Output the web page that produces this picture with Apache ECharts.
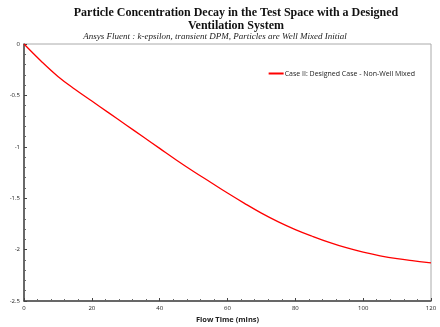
<!DOCTYPE html>
<html><head><meta charset="utf-8">
<script src="https://cdn.jsdelivr.net/npm/echarts@6/dist/echarts.min.js"></script>
<style>html,body{margin:0;padding:0;background:#fff}#c{width:440px;height:327px}</style>
</head><body><div id="c"></div>
<script>
const flowTime = [0, 5, 10, 15, 20, 25, 30, 35, 40, 45, 50, 55, 60, 65, 70, 75, 80, 85, 90, 95, 100, 105, 110, 115, 120];
const logReduction = [0, -0.165, -0.315, -0.44, -0.555, -0.67, -0.785, -0.9, -1.015, -1.13, -1.24, -1.345, -1.45, -1.55, -1.645, -1.73, -1.805, -1.87, -1.93, -1.982, -2.025, -2.06, -2.088, -2.11, -2.13];
const seriesName = 'Case II: Designed Case - Non-Well Mixed';
const titleText = 'Particle Concentration Decay in the Test Space with a Designed\nVentilation System';
const subtitleText = 'Ansys Fluent : k-epsilon, transient DPM, Particles are Well Mixed Initial';
const xName = 'Flow Time (mins)';
const yName = 'Log Reduction of Chamber Particle Concentration';

const chart = echarts.init(document.getElementById('c'), null, {renderer: 'canvas'});
chart.setOption({
  animation: false,
  backgroundColor: '#fff',
  title: [{
    text: titleText,
    left: 231, top: 1, textAlign: 'center',
    textStyle: {fontFamily: 'Liberation Serif', fontWeight: 'bold', fontSize: 12, lineHeight: 13, color: '#111'}
  }, {
    text: subtitleText,
    left: 210, top: 27, textAlign: 'center',
    textStyle: {fontFamily: 'Liberation Serif', fontStyle: 'italic', fontWeight: 'normal', fontSize: 9, color: '#222'}
  }],
  legend: {
    right: 20, top: 65, itemWidth: 15, itemHeight: 2, itemGap: 2,
    icon: 'rect',
    textStyle: {fontFamily: 'Open Sans', fontSize: 7, color: '#222', padding: [0,0,0,-4]},
    data: [seriesName]
  },
  grid: {left: 24, right: 9, top: 44, bottom: 26, show: true, borderColor: '#aaa', borderWidth: 1, containLabel: false, outerBoundsMode: 'none'},
  xAxis: {
    type: 'value', min: 0, max: 120, interval: 20,
    name: xName, nameLocation: 'middle', nameGap: 10,
    nameTextStyle: {fontFamily: 'Open Sans', fontWeight: 'bold', fontSize: 7.5, color: '#222'},
    axisLine: {show: true, onZero: false, lineStyle: {color: '#444', width: 1.5}},
    axisTick: {show: true, inside: true, length: 3, lineStyle: {color: '#444'}},
    minorTick: {show: true, splitNumber: 5, length: 2, lineStyle: {color: '#666'}},
    axisLabel: {fontFamily: 'Open Sans', fontSize: 6, color: '#222', margin: 4},
    splitLine: {show: false}
  },
  yAxis: {
    type: 'value', min: -2.5, max: 0, interval: 0.5,
    name: yName, nameLocation: 'middle', nameGap: 15, nameRotate: 90,
    nameTextStyle: {fontFamily: 'Open Sans', fontWeight: 'bold', fontSize: 7, color: '#222'},
    axisLine: {show: true, onZero: false, lineStyle: {color: '#444', width: 1.5}},
    axisTick: {show: true, inside: true, length: 3, lineStyle: {color: '#444'}},
    minorTick: {show: true, splitNumber: 5, length: 2, lineStyle: {color: '#666'}},
    axisLabel: {fontFamily: 'Open Sans', fontSize: 6, color: '#222', margin: 4},
    splitLine: {show: false}
  },
  series: [{
    name: seriesName, type: 'line', smooth: 0.4, showSymbol: false,
    lineStyle: {color: '#ff0000', width: 1.3}, itemStyle: {color: '#ff0000'},
    data: flowTime.map((t, i) => [t, logReduction[i]])
  }]
});
</script></body></html>
